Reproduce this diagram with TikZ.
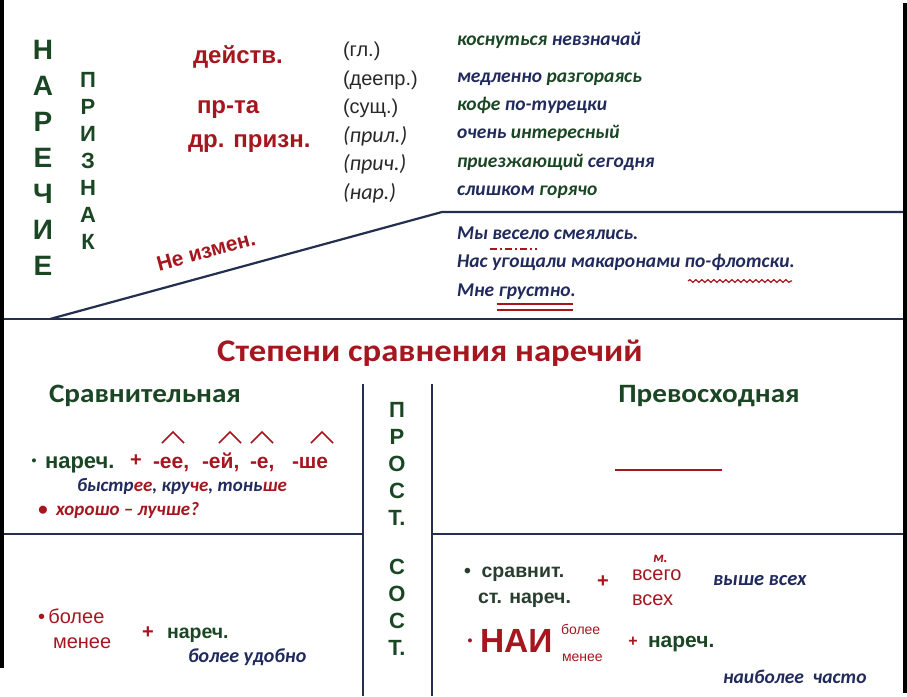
\documentclass[tikz,border=0pt]{standalone}
\usepackage{fontspec}
\setmainfont{Liberation Sans}
\newfontfamily\calfont{Carlito}
\newfontfamily\calwide{Carlito}[FakeStretch=1.1]
\usetikzlibrary{decorations.pathmorphing}

\definecolor{darkred}{RGB}{165,22,30}
\definecolor{darkgreen}{RGB}{26,70,36}
\definecolor{navy}{RGB}{32,42,92}
\definecolor{lineblue}{RGB}{36,46,78}
\definecolor{graytxt}{RGB}{40,40,40}
\definecolor{greengray}{RGB}{40,62,46}

\begin{document}
\begin{tikzpicture}[x=1pt,y=-1pt,
    every node/.style={inner sep=0pt,outer sep=0pt},
    rule/.style={lineblue,line width=2.2pt},
    frame/.style={black,line width=4.5pt},
    bigletter/.style={darkgreen,font=\bfseries\fontsize{28}{28}\selectfont},
    letter/.style={darkgreen,font=\bfseries\fontsize{22}{22}\selectfont},
    term/.style={darkred,font=\bfseries\fontsize{24}{24}\selectfont,anchor=base west},
    posnote/.style={graytxt,font=\fontsize{20}{20}\selectfont,anchor=base west},
    positnote/.style={graytxt,font=\calfont\itshape\fontsize{22}{22}\selectfont,anchor=base west},
    example/.style={font=\calfont\bfseries\itshape\fontsize{19.5}{19.5}\selectfont,anchor=base west},
    head/.style={darkgreen,font=\calwide\bfseries\fontsize{26.5}{26.5}\selectfont,anchor=base},
    plus/.style={darkred,font=\bfseries\fontsize{20}{20}\selectfont,anchor=center},
    word/.style={font=\bfseries\fontsize{21}{21}\selectfont,anchor=base west},
    plain/.style={font=\fontsize{20}{20}\selectfont,anchor=base west},
    caret/.style={darkred,line width=1.6pt},
    ulmark/.style={darkred,line width=1.8pt}
  ]
    \fill[white] (0,0) rectangle (907,696);
    \useasboundingbox (0,0) rectangle (907,696);

    % frame and dividing lines
    \coordinate (fl1) at (2,0);   \coordinate (fl2) at (2,668);
    \coordinate (fr1) at (905,3); \coordinate (fr2) at (905,693);
    \draw[frame] (fl1) -- (fl2);
    \draw[frame] (fr1) -- (fr2);
    \coordinate (midL) at (4,319);   \coordinate (midR) at (903,319);
    \coordinate (diagA) at (50,319); \coordinate (diagB) at (442,212);
    \coordinate (topR) at (903,212);
    \draw[rule] (midL) -- (midR);
    \draw[rule] (diagA) -- (diagB) -- (topR);
    \coordinate (vl1) at (363,384); \coordinate (vl2) at (363,696);
    \coordinate (vr1) at (432,384); \coordinate (vr2) at (432,696);
    \draw[rule] (vl1) -- (vl2);
    \draw[rule] (vr1) -- (vr2);
    \coordinate (lowL) at (4,534);  \coordinate (lowA) at (363,534);
    \coordinate (lowB) at (432,534); \coordinate (lowR) at (903,534);
    \draw[rule] (lowL) -- (lowA);
    \draw[rule] (lowB) -- (lowR);

    % vertical words
    \foreach \l [count=\i] in {Н,А,Р,Е,Ч,И,Е}
      \node[bigletter] (nar\i) at (43,{50+36*(\i-1)}) {\l};
    \foreach \l [count=\i] in {П,Р,И,З,Н,А,К}
      \node[letter] (pri\i) at (88,{80+27*(\i-1)}) {\l};
    \foreach \l [count=\i] in {П,Р,О,С,Т.}
      \node[letter] (pro\i) at (397,{410+27*(\i-1)}) {\l};
    \foreach \l [count=\i] in {С,О,С,Т.}
      \node[letter] (sos\i) at (397,{567+27*(\i-1)}) {\l};

    % upper part
    \node[term] (dejstv) at (193,63) {действ.};
    \node[term] (prta) at (197,113) {пр-та};
    \node[term] (drpr) at (188,147) {др. призн.};
    \node[darkred,font=\bfseries\fontsize{21}{21}\selectfont,rotate=15.3] (neizm) at (206,251) {Не измен.};

    \node[posnote] (gl) at (343,56) {(гл.)};
    \node[posnote] (deepr) at (343,85) {(деепр.)};
    \node[posnote] (sush) at (343,113) {(сущ.)};
    \node[positnote] (pril) at (343,142) {(прил.)};
    \node[positnote] (prich) at (343,170) {(прич.)};
    \node[positnote] (nar) at (343,199) {(нар.)};

    \node[example] (ex1) at (457,45) {\textcolor{darkgreen}{коснуться} \textcolor{navy}{невзначай}};
    \node[example] (ex2) at (457,82) {\textcolor{navy}{медленно} \textcolor{darkgreen}{разгораясь}};
    \node[example] (ex3) at (457,110) {\textcolor{darkgreen}{кофе} \textcolor{navy}{по-турецки}};
    \node[example] (ex4) at (457,138) {\textcolor{navy}{очень} \textcolor{darkgreen}{интересный}};
    \node[example] (ex5) at (457,167) {\textcolor{darkgreen}{приезжающий} \textcolor{navy}{сегодня}};
    \node[example] (ex6) at (457,195) {\textcolor{navy}{слишком} \textcolor{darkgreen}{горячо}};

    \node[example,navy] (sent1) at (457,239) {Мы весело смеялись.};
    \node[example,navy] (sent2) at (457,267) {Нас угощали макаронами по-флотски.};
    \node[example,navy] (sent3) at (457,296) {Мне грустно.};
    \draw[ulmark,dash pattern=on 7pt off 3pt on 2pt off 3pt] (490,249) -- (537,249);
    \draw[darkred,line width=1.2pt,decorate,decoration={snake,segment length=6pt,amplitude=1.3pt}] (688,281) -- (792,281);
    \draw[ulmark] (497,304) -- (573,304);
    \draw[ulmark] (497,310) -- (573,310);

    % lower part
    \node[darkred,font=\calwide\bfseries\fontsize{31.5}{31.5}\selectfont] (title) at (430,353) {Степени сравнения наречий};
    \node[head] (srav) at (145,402) {Сравнительная};
    \node[head] (prev) at (709,402) {Превосходная};
    \draw[darkred,line width=2pt] (615,470) -- (722,470);

    \foreach \cx in {173,230,262,322}
      \draw[caret] (\cx-11,443) -- (\cx,432) -- (\cx+11,443);
    \node[darkgreen,font=\bfseries\fontsize{14}{14}\selectfont] (dot1) at (34,462) {\textbullet};
    \node[word,darkgreen,font=\bfseries\fontsize{22}{22}\selectfont] (narech1) at (45,468) {нареч.};
    \node[plus] (plus1) at (136,461) {+};
    \node[word,darkred] (suf1) at (153,468) {-ее,};
    \node[word,darkred] (suf2) at (202,468) {-ей,};
    \node[word,darkred] (suf3) at (250,468) {-е,};
    \node[word,darkred] (suf4) at (292,468) {-ше};
    \node[example,navy,font=\calfont\bfseries\itshape\fontsize{19}{19}\selectfont] (bystr) at (77,491)
      {быстр\textcolor{darkred}{ее}, кру\textcolor{darkred}{че}, тонь\textcolor{darkred}{ше}};
    \node[example,darkred,font=\calfont\bfseries\itshape\fontsize{19}{19}\selectfont] (horosho) at (38,515) {\textbullet\ \ хорошо – лучше?};

    \node[plain,darkred] (bolee1) at (38,623) {\textbullet\,более};
    \node[plain,darkred] (menee1) at (53,648) {менее};
    \node[plus] (plus2) at (148,633) {+};
    \node[plain,darkgreen,font=\bfseries\fontsize{19.5}{19.5}\selectfont] (narech2) at (167,638) {нареч.};
    \node[example,navy,font=\calfont\bfseries\itshape\fontsize{20}{20}\selectfont] (udobno) at (188,662) {более удобно};

    \node[plain,greengray,font=\bfseries\fontsize{19.5}{19.5}\selectfont] (sravnit) at (464,577) {\textbullet\ \ сравнит.};
    \node[plain,greengray,font=\bfseries\fontsize{19.5}{19.5}\selectfont] (stnar) at (478,603) {ст. нареч.};
    \node[plus] (plus3) at (603,582) {+};
    \node[plain,darkred,font=\calfont\bfseries\itshape\fontsize{15}{15}\selectfont] (m) at (653,562) {м.};
    \node[plain,darkred] (vsego) at (632,580) {всего};
    \node[plain,darkred] (vseh) at (632,605) {всех};
    \node[example,navy,font=\calfont\bfseries\itshape\fontsize{20.5}{20.5}\selectfont] (vyshe) at (713,585) {выше всех};

    \node[darkred,font=\bfseries\fontsize{14}{14}\selectfont] (dot2) at (470,642) {\textbullet};
    \node[plain,darkred,font=\bfseries\fontsize{33.5}{33.5}\selectfont] (nai) at (480,652) {НАИ};
    \node[plain,darkred,font=\fontsize{14}{14}\selectfont] (bolee2) at (561,634) {более};
    \node[plain,darkred,font=\fontsize{14}{14}\selectfont] (menee2) at (562,661) {менее};
    \node[plus,font=\bfseries\fontsize{16}{16}\selectfont] (plus4) at (633,642) {+};
    \node[word,darkgreen,font=\bfseries\fontsize{21}{21}\selectfont] (narech3) at (648,647) {нареч.};
    \node[example,navy] (naibolee) at (723,683) {наиболее\ \ часто};
\end{tikzpicture}
\end{document}
